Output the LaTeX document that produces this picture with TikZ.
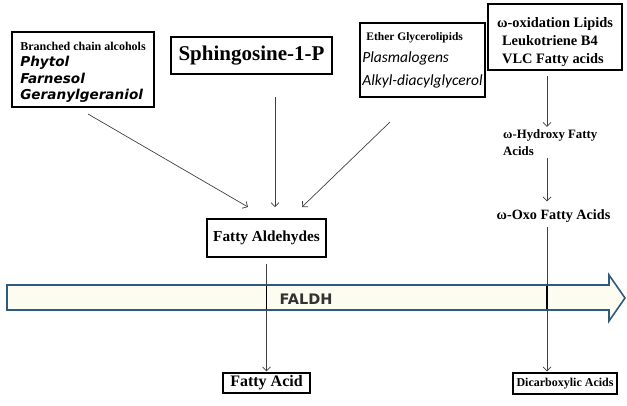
\documentclass[tikz,border=0pt]{standalone}
\usepackage{fontspec}
\setmainfont{Liberation Serif}
\newfontfamily\carlito{Carlito}
\newfontfamily\dejavu{DejaVu Sans}
\usetikzlibrary{arrows.meta}

\definecolor{bandline}{RGB}{45,90,125}
\definecolor{bandfill}{RGB}{252,252,240}
\tikzset{
  box/.style={draw, line width=1.3pt, inner sep=0pt, align=left},
  arr/.style={draw=black!75, line width=0.7pt, -{Straight Barb[length=4pt,width=8pt]}},
  lbl/.style={inner sep=0pt, align=left, font=\bfseries\fontsize{12.8}{17}\selectfont},
}

\begin{document}
\begin{tikzpicture}[x=1pt,y=-1pt]
    \useasboundingbox (0,0) rectangle (627,405);
    % FALDH band
    \draw[bandline, line width=1.6pt, fill=bandfill]
      (7,285) -- (609,285) -- (609,275) -- (625,298) -- (609,321) -- (609,310) -- (7,310) -- cycle;
    \node[font=\dejavu\bfseries\fontsize{14.5}{17}\selectfont, text=black!80] (faldh) at (306,299) {FALDH};
    \coordinate (bt) at (0,286);
    \coordinate (bb) at (0,309);
    \coordinate (col) at (547,0);
    % Source boxes
    \node[box, minimum width=142pt, minimum height=75pt,
          font=\fontsize{13.6}{16.5}\selectfont] (alc) at (83,69.5) {%
      {\bfseries\fontsize{12}{16.5}\selectfont\rule{0pt}{14pt}Branched chain alcohols}\\
      {\dejavu\bfseries\itshape Phytol}\\
      {\dejavu\bfseries\itshape Farnesol}\\
      {\dejavu\bfseries\itshape Geranylgeraniol}};
    \node[box, minimum width=161pt, minimum height=37pt,
          font=\bfseries\fontsize{21}{24}\selectfont] (sph) at (251.5,55.5) {Sphingosine-1-P};
    \node[box, minimum width=125pt, minimum height=74pt,
          font=\fontsize{15.5}{22.5}\selectfont] (eth) at (422.5,60) {%
      {\bfseries\fontsize{11.5}{22.5}\selectfont\hspace*{4pt}Ether Glycerolipids}\\
      {\carlito\itshape Plasmalogens}\\
      {\carlito\itshape Alkyl-diacylglycerol}};
    \node[box, minimum width=134pt, minimum height=66pt,
          font=\bfseries\fontsize{14.4}{18}\selectfont] (omg) at (555,37) {%
      \rule{0pt}{20pt}ω-oxidation Lipids\\
      \hspace*{5pt}Leukotriene B4\\
      \hspace*{5pt}VLC Fatty acids};
    % Intermediates and products
    \node[box, minimum width=119pt, minimum height=38pt,
          font=\bfseries\fontsize{15.3}{18}\selectfont] (ald) at (266.5,238) {Fatty Aldehydes};
    \node[box, minimum width=87pt, minimum height=20pt,
          font=\bfseries\fontsize{16}{18}\selectfont] (acid) at (266.5,383) {Fatty Acid};
    \node[box, minimum width=104pt, minimum height=21pt,
          font=\bfseries\fontsize{12}{14}\selectfont] (dic) at (565,383.5) {Dicarboxylic Acids};
    \node[lbl, anchor=west] (hyd) at (503,143) {ω-Hydroxy Fatty\\Acids};
    \node[lbl, font=\bfseries\fontsize{14.2}{16}\selectfont] (oxo) at (553.5,216) {ω-Oxo Fatty Acids};
    % Arrows into Fatty Aldehydes
    \coordinate (alcout) at (88,114);
    \coordinate (sphout) at (275,97);
    \coordinate (ethout) at (390,122);
    \coordinate (inL) at (248,207);
    \coordinate (inM) at (275,207);
    \coordinate (inR) at (302,207);
    \foreach \s/\e in {alcout/inL, sphout/inM, ethout/inR}{
      \draw[arr] (\s) -- (\e);
    }
    % Down arrows
    \draw[arr, shorten <=6pt, shorten >=1pt] (ald.south) -- (acid.north);
    \draw[arr, shorten <=5pt, shorten >=3pt] (omg.south -| col) -- (hyd.north -| col);
    \draw[arr, shorten <=2pt, shorten >=8pt] (hyd.south -| col) -- (oxo.north -| col);
    \draw[arr, shorten <=4pt, shorten >=1pt] (oxo.south -| col) -- (dic.north -| col);
    % crossings through the band
    \draw[line width=1.8pt] (ald.south |- bt) -- (ald.south |- bb);
    \draw[line width=1.8pt] (col |- bt) -- (col |- bb);
\end{tikzpicture}
\end{document}
